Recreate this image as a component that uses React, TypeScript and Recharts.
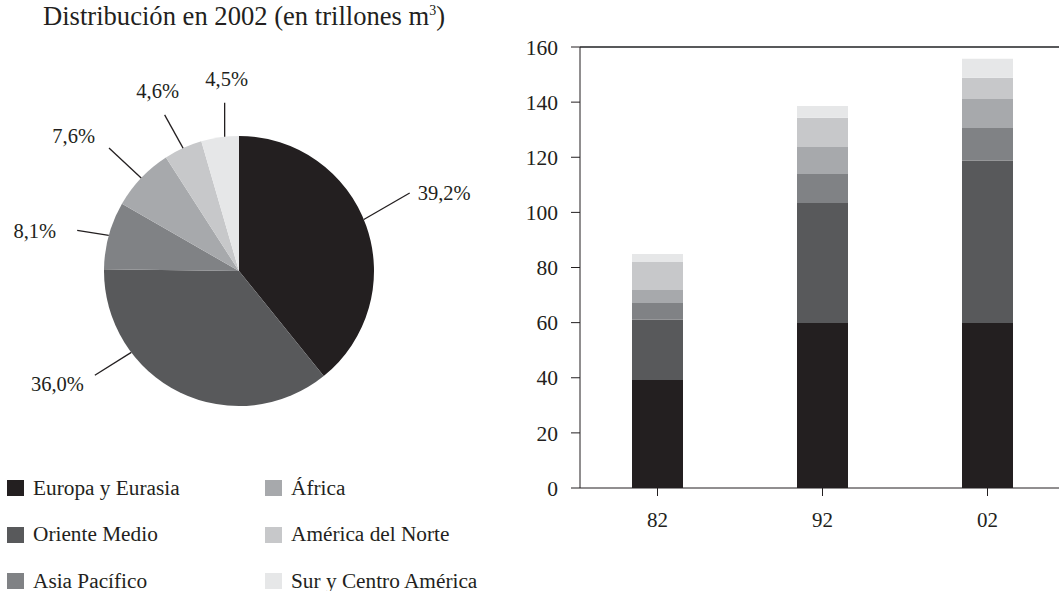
import React from "react";
import {
  BarChart,
  Bar,
  XAxis,
  YAxis,
  ReferenceLine,
  PieChart,
  Pie,
  Cell,
} from "recharts";

const REGIONS = [
  "Europa y Eurasia",
  "Oriente Medio",
  "Asia Pacífico",
  "África",
  "América del Norte",
  "Sur y Centro América",
];
const COLORS = ["#231f20", "#58595b", "#808285", "#a7a9ac", "#c7c8ca", "#e6e7e8"];

// reparto 2002 (%)
const SHARES_2002 = [39.2, 36.0, 8.1, 7.6, 4.6, 4.5];

// trillones m3 por año
const YEARS = ["82", "92", "02"];
const EUROPA = [39.2, 59.9, 59.9];
const ORIENTE = [21.8, 43.5, 58.8];
const ASIA = [6.1, 10.5, 11.9];
const AFRICA = [4.7, 9.8, 10.5];
const NORTE = [10.2, 10.6, 7.7];
const SUR = [2.9, 4.3, 6.9];
const Y_TICKS = [0, 20, 40, 60, 80, 100, 120, 140, 160];

const SERIES = [EUROPA, ORIENTE, ASIA, AFRICA, NORTE, SUR];
const KEYS = ["europa", "oriente", "asia", "africa", "norte", "sur"];

const barData = YEARS.map((year, i) => {
  const row: Record<string, string | number> = { year };
  KEYS.forEach((k, s) => (row[k] = SERIES[s][i]));
  return row;
});

const pieData = REGIONS.map((name, i) => ({ name, value: SHARES_2002[i] }));

// colocación de las etiquetas del pastel (a mano, como en el original)
const LABEL_LAYOUT = [
  { shift: 3, dir: 30, len: 53, dx: 8, dy: 0, anchor: "start" },
  { shift: -27, dir: 212, len: 43, dx: -11, dy: 9, anchor: "end" },
  { shift: 0, dir: 171, len: 32, dx: -21, dy: 1, anchor: "end" },
  { shift: 0, dir: 137, len: 44, dx: -14, dy: -12, anchor: "end" },
  { shift: 0, dir: 119, len: 38, dx: -7, dy: -24, anchor: "middle" },
  { shift: -2, dir: 90, len: 34, dx: 2, dy: -24, anchor: "middle" },
];

const INK = "#231f20";
const RAD = Math.PI / 180;

function renderPieLabel(props: any) {
  const { cx, cy, midAngle, outerRadius, index, value } = props;
  const l = LABEL_LAYOUT[index];
  const a = (midAngle + l.shift) * RAD;
  const x1 = cx + outerRadius * Math.cos(a);
  const y1 = cy - outerRadius * Math.sin(a);
  const x2 = x1 + l.len * Math.cos(l.dir * RAD);
  const y2 = y1 - l.len * Math.sin(l.dir * RAD);
  return (
    <g>
      <line x1={x1} y1={y1} x2={x2} y2={y2} stroke={INK} strokeWidth={1.3} />
      <text
        x={x2 + l.dx}
        y={y2 + l.dy}
        textAnchor={l.anchor as any}
        dominantBaseline="central"
        fill={INK}
        fontSize={20.5}
      >
        {Number(value).toFixed(1).replace(".", ",")}%
      </text>
    </g>
  );
}

function LegendItem({ color, label, x, y }: { color: string; label: string; x: number; y: number }) {
  return (
    <div style={{ position: "absolute", left: x, top: y - 12, height: 24, display: "flex", alignItems: "center" }}>
      <div style={{ width: 17, height: 16, background: color, marginRight: 9 }} />
      <span style={{ fontSize: 21.3, color: INK, whiteSpace: "nowrap" }}>{label}</span>
    </div>
  );
}

export default function App() {
  return (
    <div
      style={{
        position: "absolute",
        left: 0,
        top: 0,
        width: 1059,
        height: 591,
        overflow: "hidden",
        background: "#fff",
        fontFamily: "'Liberation Serif', 'Times New Roman', serif",
      }}
    >
      <div style={{ position: "absolute", left: 43, top: 1, fontSize: 26.6, color: INK, whiteSpace: "nowrap" }}>
        Distribución en 2002 (en trillones m<sup style={{ fontSize: 14 }}>3</sup>)
      </div>

      <div style={{ position: "absolute", left: 0, top: 0 }}>
        <PieChart width={500} height={440} margin={{ top: 0, right: 0, bottom: 0, left: 0 }}>
          <Pie
            data={pieData}
            dataKey="value"
            nameKey="name"
            cx={239}
            cy={271}
            outerRadius={135}
            startAngle={90}
            endAngle={-270}
            stroke="none"
            labelLine={false}
            label={renderPieLabel}
            isAnimationActive={false}
          >
            {pieData.map((d, i) => (
              <Cell key={d.name} fill={COLORS[i]} />
            ))}
          </Pie>
        </PieChart>
      </div>

      {REGIONS.map((r, i) => (
        <LegendItem
          key={r}
          color={COLORS[i]}
          label={r}
          x={i < 3 ? 7 : 265}
          y={488 + (i % 3) * 46.5}
        />
      ))}

      <div style={{ position: "absolute", left: 0, top: 0 }}>
        <BarChart
          width={1075}
          height={591}
          data={barData}
          margin={{ top: 47, right: 0, bottom: 63, left: 520 }}
          barSize={51}
        >
          <XAxis
            dataKey="year"
            stroke={INK}
            tick={{ fill: INK, fontSize: 21 }}
            tickSize={8}
            tickMargin={16}
            height={40}
            padding={{ left: -5, right: 5 }}
          />
          <YAxis
            domain={[0, 160]}
            ticks={Y_TICKS}
            interval={0}
            stroke={INK}
            tick={{ fill: INK, fontSize: 21.5 }}
            tickSize={9}
            tickMargin={13}
            width={60}
          />
          <ReferenceLine y={160} stroke="#58595b" strokeWidth={2} />
          {KEYS.map((k, i) => (
            <Bar key={k} dataKey={k} stackId="a" fill={COLORS[i]} isAnimationActive={false} />
          ))}
        </BarChart>
      </div>
    </div>
  );
}
